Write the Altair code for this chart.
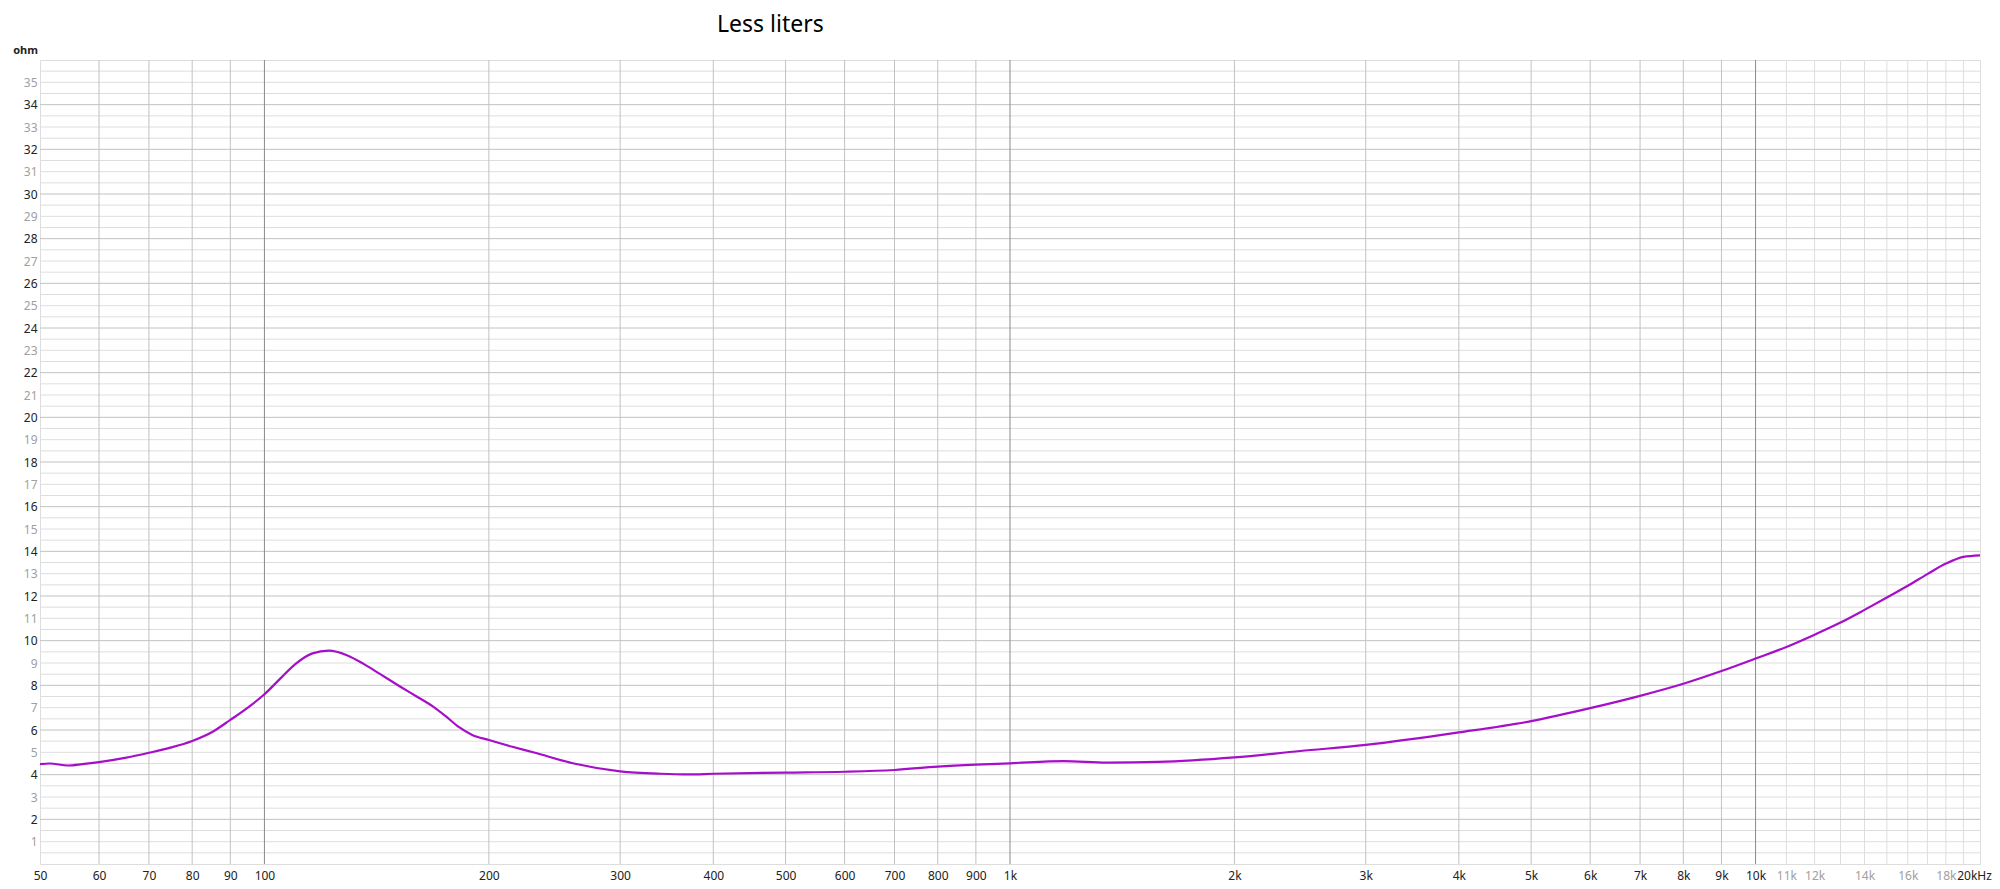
import altair as alt
import pandas as pd

TITLE = "Less liters"
Y_UNIT = "ohm"

freq = [50, 51.5, 54.5, 57, 60, 65, 70, 75, 80, 85, 90, 95, 100, 105, 110, 116, 122, 129,
        136, 143, 152, 160, 168, 175, 182, 190, 200, 215, 230, 260, 300, 340, 370, 400, 500,
        600, 700, 800, 900, 1000, 1180, 1350, 1580, 2000, 2450, 3000, 4000, 5000, 6000,
        7000, 8000, 9000, 10000, 11000, 12000, 13000, 14000, 15000, 16000, 17000, 18000,
        19000, 20000]
ohm = [4.47, 4.50, 4.41, 4.47, 4.56, 4.75, 4.98, 5.22, 5.51, 5.90, 6.45, 7.00, 7.60, 8.30,
       8.95, 9.43, 9.55, 9.35, 8.95, 8.50, 7.95, 7.50, 7.07, 6.62, 6.15, 5.78, 5.55, 5.25,
       4.99, 4.50, 4.15, 4.04, 4.01, 4.04, 4.09, 4.13, 4.21, 4.36, 4.45, 4.51, 4.61, 4.54,
       4.57, 4.77, 5.06, 5.33, 5.89, 6.40, 6.98, 7.53, 8.07, 8.64, 9.20, 9.72, 10.27, 10.81,
       11.38, 11.93, 12.46, 12.98, 13.45, 13.75, 13.82]

x_tick_values = [50, 60, 70, 80, 90, 100, 200, 300, 400, 500, 600, 700, 800, 900, 1000,
                 2000, 3000, 4000, 5000, 6000, 7000, 8000, 9000, 10000, 11000, 12000,
                 14000, 16000, 18000, 20000]
x_grid_dark = [100, 1000, 10000]
x_grid_mid = [60, 70, 80, 90, 200, 300, 400, 500, 600, 700, 800, 900,
              2000, 3000, 4000, 5000, 6000, 7000, 8000, 9000]
x_grid_light = [11000, 12000, 13000, 14000, 15000, 16000, 17000, 18000, 19000]
y_tick_values = list(range(1, 36))
y_grid_mid = list(range(2, 36, 2))
y_grid_light = [v / 2 for v in range(1, 72) if v % 4 != 0]

FONT = "Noto Sans"

x_scale = alt.Scale(type="log", domain=[50, 20000], nice=False)
y_scale = alt.Scale(domain=[0, 36], nice=False, zero=True)

x_axis = alt.Axis(
    values=x_tick_values,
    labelExpr="datum.value == 20000 ? '20kHz' : (datum.value >= 1000 ? (datum.value / 1000) + 'k' : '' + datum.value)",
    labelColor=alt.condition("datum.value >= 11000 && datum.value < 20000",
                             alt.value("#a0a0a0"), alt.value("#222222")),
    labelOffset=alt.condition("datum.value == 20000", alt.value(-6), alt.value(0)),
    grid=False, ticks=False, tickSize=0, domain=False, title=None,
    labelFont=FONT, labelFontSize=12, labelPadding=6, labelFlush=False,
    labelOverlap=False,
)
y_axis = alt.Axis(
    values=y_tick_values,
    labelColor=alt.condition("datum.value % 2 == 1",
                             alt.value("#a0a0a0"), alt.value("#222222")),
    grid=False, ticks=False, tickSize=0, domain=False, title=None,
    labelFont=FONT, labelFontSize=12, labelPadding=3, labelOverlap=False,
)


def vrules(values, color):
    return alt.Chart(pd.DataFrame({"f": values})).mark_rule(
        color=color, strokeWidth=1
    ).encode(x=alt.X("f:Q", scale=x_scale, axis=x_axis))


def hrules(values, color):
    return alt.Chart(pd.DataFrame({"v": values})).mark_rule(
        color=color, strokeWidth=1
    ).encode(y=alt.Y("v:Q", scale=y_scale, axis=y_axis))


curve = alt.Chart(pd.DataFrame({"f": freq, "ohm": ohm})).mark_line(
    color="#a60fc8", strokeWidth=2.2, interpolate="monotone"
).encode(
    x=alt.X("f:Q", scale=x_scale, axis=x_axis),
    y=alt.Y("ohm:Q", scale=y_scale, axis=y_axis),
)

title_mark = alt.Chart(pd.DataFrame({"t": [TITLE]})).mark_text(
    align="left", baseline="alphabetic", fontSize=23, font=FONT, color="#000000"
).encode(text="t:N", x=alt.value(677), y=alt.value(-28))

unit_mark = alt.Chart(pd.DataFrame({"t": [Y_UNIT]})).mark_text(
    align="right", baseline="middle", fontSize=11, font=FONT, fontWeight="bold",
    color="#222222"
).encode(text="t:N", x=alt.value(-2), y=alt.value(-9))

chart = alt.layer(
    hrules(y_grid_light, "#dedede"),
    vrules(x_grid_light, "#dedede"),
    hrules(y_grid_mid, "#c2c2c2"),
    vrules(x_grid_mid, "#c2c2c2"),
    vrules(x_grid_dark, "#8a8a8a"),
    curve,
    title_mark,
    unit_mark,
).properties(
    width=1940,
    height=804,
    padding={"left": 32, "top": 52, "right": 12, "bottom": 22},
    autosize=alt.AutoSizeParams(type="none"),
).configure_view(
    stroke="#bcbcbc", strokeWidth=1
).configure(background="white")

chart.save("out.html", embed_options={"renderer": "svg", "actions": False})
